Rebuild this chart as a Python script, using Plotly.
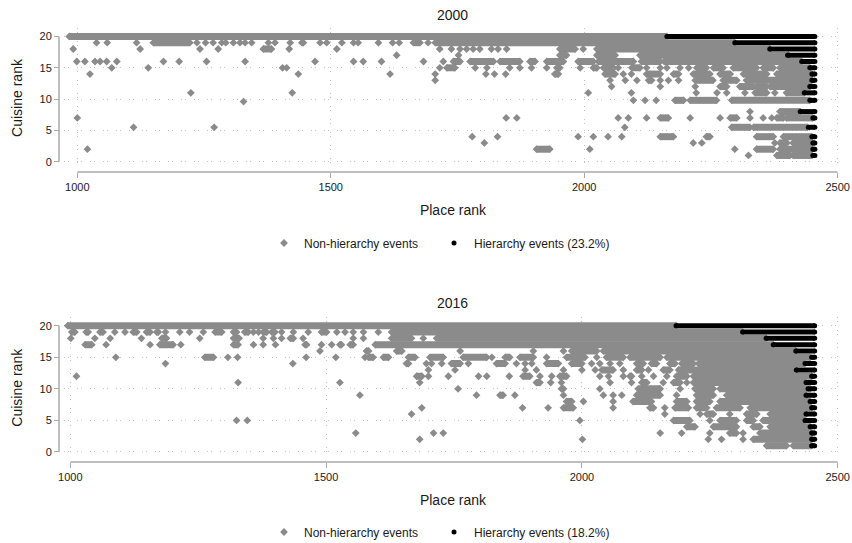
import plotly.graph_objects as go

# ---------------- data ----------------
# each entry: (cuisine rank, place rank) for a single event, or
# (cuisine rank, first place rank, last place rank) for a dense run of events
nonhier_2000 = [
    (20, 984, 2163),
    (19, 1038), (19, 1059), (19, 1117), (19, 1150, 1222), (19, 1236), (19, 1253), (19, 1268), (19, 1285),
    (19, 1293), (19, 1308), (19, 1321), (19, 1331), (19, 1344), (19, 1377), (19, 1390), (19, 1420),
    (19, 1443, 1446), (19, 1479), (19, 1492), (19, 1522), (19, 1545), (19, 1554), (19, 1594), (19, 1622),
    (19, 1635), (19, 1663, 1676), (19, 1692), (19, 1706, 2297),
    (18, 992), (18, 1124), (18, 1242), (18, 1278), (18, 1367, 1383), (18, 1418), (18, 1512), (18, 1715),
    (18, 1738), (18, 1755), (18, 1768), (18, 1781), (18, 1794), (18, 1817), (18, 1830), (18, 1847),
    (18, 1952, 1982), (18, 1998), (18, 2025, 2366),
    (17, 1630), (17, 1752), (17, 1952, 1965), (17, 2025, 2061), (17, 2110, 2403),
    (16, 999), (16, 1015), (16, 1035), (16, 1045), (16, 1058), (16, 1078), (16, 1170), (16, 1201),
    (16, 1255), (16, 1331), (16, 1469), (16, 1545), (16, 1564), (16, 1600), (16, 1683), (16, 1722),
    (16, 1742, 1755), (16, 1775, 1821), (16, 1834, 1873), (16, 1893, 1903), (16, 1926, 1959),
    (16, 1988, 2018), (16, 2028, 2097), (16, 2113, 2150), (16, 2158, 2429),
    (15, 1068), (15, 1140), (15, 1405), (15, 1413), (15, 1715), (15, 1729, 1745), (15, 1785), (15, 1808),
    (15, 1853), (15, 1873), (15, 1896), (15, 1926), (15, 1946, 1952), (15, 1992), (15, 2018, 2025),
    (15, 2038, 2058), (15, 2067), (15, 2094, 2110), (15, 2123), (15, 2150), (15, 2163), (15, 2189),
    (15, 2206), (15, 2222, 2241), (15, 2255, 2274), (15, 2294, 2340), (15, 2353, 2373), (15, 2386, 2445),
    (14, 1025), (14, 1436), (14, 1617), (14, 1706), (14, 1806), (14, 1823), (14, 1845), (14, 1942, 1949),
    (14, 2041, 2061), (14, 2077), (14, 2093), (14, 2123, 2150), (14, 2176, 2186), (14, 2215, 2248),
    (14, 2268, 2288), (14, 2314, 2360), (14, 2380, 2449),
    (13, 1706), (13, 2051), (13, 2081), (13, 2104), (13, 2127, 2133), (13, 2150), (13, 2166), (13, 2186),
    (13, 2219, 2254), (13, 2274, 2301), (13, 2320, 2449),
    (12, 2054), (12, 2150), (12, 2219), (12, 2268, 2281), (12, 2307, 2334), (12, 2340, 2360), (12, 2367, 2445),
    (11, 1224), (11, 1424), (11, 2008), (11, 2093), (11, 2221), (11, 2262), (11, 2281), (11, 2317),
    (11, 2337, 2360), (11, 2376), (11, 2399, 2434),
    (9.6, 1328), (9.8, 2097), (9.8, 2120), (9.8, 2142), (9.8, 2179, 2196), (9.8, 2209, 2261), (9.8, 2291, 2445),
    (8, 2327), (8, 2386, 2426),
    (7, 1000), (7, 1846), (7, 1867), (7, 2067), (7, 2087), (7, 2123), (7, 2150, 2166), (7, 2209), (7, 2268),
    (7, 2288, 2301), (7, 2327), (7, 2353), (7, 2370), (7, 2380, 2393), (7, 2399, 2450),
    (5.5, 1111), (5.5, 1270), (5.5, 2080), (5.5, 2291, 2327), (5.5, 2334, 2440),
    (4, 1779), (4, 1829), (4, 1988), (4, 2018), (4, 2047), (4, 2074), (4, 2150, 2176), (4, 2241, 2248),
    (4, 2340, 2373), (4, 2393, 2449),
    (3, 1803), (3, 2215), (3, 2232), (3, 2376), (3, 2386, 2400), (3, 2412, 2449),
    (2, 1020), (2, 1906, 1932), (2, 2011), (2, 2297), (2, 2340, 2373), (2, 2386, 2449),
    (1, 2324), (1, 2380, 2406), (1, 2412, 2449),
]
hier_2000 = [
    (20, 2163, 2455), (19, 2297, 2455), (18, 2366, 2455), (17, 2401, 2455), (16, 2429, 2455),
    (15, 2445, 2455), (14, 2449, 2455), (13, 2449, 2455), (12, 2445, 2455), (11, 2434, 2455),
    (9.8, 2445, 2455), (8, 2426, 2455), (7, 2451, 2455), (5.5, 2442, 2455), (4, 2449, 2455),
    (3, 2451, 2455), (2, 2451, 2455), (1, 2451, 2455),
]
nonhier_2016 = [
    (20, 995, 2184),
    (19, 1003, 1009), (19, 1031, 1035), (19, 1058, 1064), (19, 1087), (19, 1107), (19, 1123, 1130),
    (19, 1149, 1156), (19, 1169, 1172), (19, 1186), (19, 1214), (19, 1233), (19, 1260), (19, 1283, 1296),
    (19, 1319, 1325), (19, 1341, 1348), (19, 1358), (19, 1368), (19, 1377, 1384), (19, 1394, 1400),
    (19, 1413), (19, 1436), (19, 1465), (19, 1491, 1501), (19, 1521), (19, 1537), (19, 1553), (19, 1573),
    (19, 1602), (19, 1628, 2314),
    (18, 1001), (18, 1048), (18, 1078), (18, 1139), (18, 1179, 1188), (18, 1253), (18, 1319, 1330),
    (18, 1377), (18, 1397), (18, 1413), (18, 1430, 1436), (18, 1455), (18, 1553), (18, 1573),
    (18, 1628, 1667), (18, 1690), (18, 1716, 2360),
    (17, 1029, 1042), (17, 1070), (17, 1156), (17, 1175, 1201), (17, 1216), (17, 1319, 1328), (17, 1358),
    (17, 1377), (17, 1401), (17, 1459, 1462), (17, 1491), (17, 1511), (17, 1527, 1530), (17, 1547, 1553),
    (17, 1596, 2374),
    (16, 1488), (16, 1579, 1583), (16, 1638, 1648), (16, 1762), (16, 1905), (16, 1964), (16, 1980, 2029),
    (16, 2042, 2418),
    (15, 1089), (15, 1263, 1280), (15, 1308), (15, 1327), (15, 1461), (15, 1519), (15, 1576),
    (15, 1583, 1592), (15, 1612, 1622), (15, 1661, 1674), (15, 1703, 1729), (15, 1768, 1814), (15, 1824),
    (15, 1850, 1859), (15, 1879, 1905), (15, 1931), (15, 1970, 2006), (15, 2029), (15, 2048, 2081),
    (15, 2094, 2153), (15, 2166, 2446),
    (14, 1186), (14, 1435), (14, 1657, 1661), (14, 1696), (14, 1706), (14, 1726), (14, 1745, 1762),
    (14, 1778), (14, 1833, 1850), (14, 1872), (14, 1889), (14, 1902), (14, 1931, 1954), (14, 1980, 2000),
    (14, 2019), (14, 2035), (14, 2055), (14, 2074), (14, 2107, 2120), (14, 2136, 2146), (14, 2172, 2182),
    (14, 2195, 2218), (14, 2228, 2436),
    (13, 1700), (13, 1752), (13, 1889), (13, 1911), (13, 1964), (13, 2000), (13, 2026), (13, 2039, 2061),
    (13, 2081), (13, 2107, 2117), (13, 2130), (13, 2159, 2172), (13, 2189, 2419),
    (12, 1012), (12, 1677, 1687), (12, 1700), (12, 1739), (12, 1798), (12, 1814), (12, 1858),
    (12, 1885, 1898), (12, 1918), (12, 1941), (12, 1957, 1970), (12, 2035), (12, 2052), (12, 2081),
    (12, 2094, 2097), (12, 2117), (12, 2140), (12, 2166), (12, 2185, 2205), (12, 2218, 2449),
    (11, 1328), (11, 1527), (11, 1683), (11, 1911, 1918), (11, 1939), (11, 1960), (11, 2055), (11, 2097),
    (11, 2117, 2127), (11, 2159), (11, 2179, 2192), (11, 2205), (11, 2218, 2438),
    (10, 1758), (10, 1960, 1964), (10, 2035), (10, 2110, 2153), (10, 2192), (10, 2221, 2257), (10, 2270, 2446),
    (9, 1566), (9, 1794), (9, 1840, 1846), (9, 1869), (9, 1964), (9, 2042), (9, 2061), (9, 2078),
    (9, 2107, 2153), (9, 2185), (9, 2224, 2257), (9, 2283, 2438),
    (8, 1970, 1980), (8, 2003), (8, 2061), (8, 2100, 2136), (8, 2185, 2205), (8, 2224, 2250), (8, 2270, 2446),
    (7, 1687), (7, 1884), (7, 1934), (7, 1964, 1983), (7, 2061), (7, 2133, 2140), (7, 2162), (7, 2182, 2208),
    (7, 2224, 2244), (7, 2263, 2309), (7, 2329, 2449),
    (6, 1667), (6, 2162), (6, 2231), (6, 2244, 2257), (6, 2289), (6, 2322, 2342), (6, 2368, 2438),
    (5, 1325), (5, 1346), (5, 1996), (5, 2179, 2211), (5, 2250), (5, 2270, 2302), (5, 2322, 2335),
    (5, 2354, 2436),
    (4, 2205, 2221), (4, 2257, 2302), (4, 2335, 2348), (4, 2368, 2446),
    (3, 1558), (3, 1710), (3, 1729), (3, 2153), (3, 2195), (3, 2250), (3, 2289, 2302), (3, 2315), (3, 2348, 2449),
    (2, 1683), (2, 2001), (2, 2247), (2, 2273), (2, 2315), (2, 2335, 2449),
    (1, 2361, 2400), (1, 2413, 2449),
]
hier_2016 = [
    (20, 2184, 2455), (19, 2314, 2455), (18, 2360, 2455), (17, 2374, 2455), (16, 2418, 2455),
    (15, 2449, 2455), (14, 2436, 2455), (13, 2419, 2455), (12, 2449, 2455), (11, 2438, 2455),
    (10, 2442, 2455), (9, 2438, 2455), (8, 2446, 2455), (7, 2449, 2455), (6, 2438, 2455),
    (5, 2436, 2455), (4, 2446, 2455), (3, 2449, 2455), (2, 2449, 2455), (1, 2449, 2455),
]
panel_titles = ["2000", "2016"]
hier_share = [23.2, 18.2]
place_ticks = [1000, 1500, 2000, 2500]
cuisine_ticks = [0, 5, 10, 15, 20]

# ---------------- styling ----------------
GRAY = "#8b8b8b"
AXC = "#a9a9a9"
GRIDC = "#c4c4c4"
FONT = "Arial, Liberation Sans, sans-serif"
W, H = 852, 543
PX_L, PX_R = 64, 842
panels = [
    dict(nonhier=nonhier_2000, hier=hier_2000, ytop=28, ybot=168, axis_y=172, xr=[973.8, 2508.5],
         title_y=15, legend_y=243),
    dict(nonhier=nonhier_2016, hier=hier_2016, ytop=317.2, ybot=458.3, axis_y=462, xr=[987.7, 2508.4],
         title_y=303, legend_y=532),
]
LEG_X = [264, 434]   # left edge (px) of the two legend entries


def split(entries):
    lx, ly, px, py = [], [], [], []
    for e in entries:
        y = e[0]
        if len(e) == 3 and e[2] > e[1]:
            lx += [e[1], e[2], None]
            ly += [y, y, None]
            px += [e[1], e[2]]
            py += [y, y]
        else:
            px.append(e[1])
            py.append(y)
    return lx, ly, px, py


fig = go.Figure()
layout = dict(width=W, height=H, margin=dict(l=0, r=0, t=0, b=0, autoexpand=False),
              paper_bgcolor="white", plot_bgcolor="white",
              font=dict(family=FONT, color="#1a1a1a"), shapes=[], annotations=[])

leg_n = 0
for i, p in enumerate(panels):
    k = "" if i == 0 else str(i + 1)
    xa, ya = "x" + k, "y" + k
    for j, (series, color, lw, sym, ms, name) in enumerate([
        (p["nonhier"], GRAY, 7, "diamond", 6, "Non-hierarchy events"),
        (p["hier"], "black", 5, "circle", 5, "Hierarchy events (%.1f%%)" % hier_share[i]),
    ]):
        leg_n += 1
        leg = "legend" if leg_n == 1 else "legend%d" % leg_n
        lx, ly, px, py = split(series)
        fig.add_trace(go.Scatter(x=lx, y=ly, mode="lines", line=dict(color=color, width=lw),
                                 xaxis=xa, yaxis=ya, showlegend=False, legend=leg,
                                 legendgroup=name + k, hoverinfo="skip"))
        fig.add_trace(go.Scatter(x=px, y=py, mode="markers", name=name,
                                 marker=dict(symbol=sym, size=ms, color=color, line=dict(width=0)),
                                 xaxis=xa, yaxis=ya, legend=leg, legendgroup=name + k))
        layout[leg] = dict(orientation="h", x=LEG_X[j] / W, y=(H - p["legend_y"]) / H, xanchor="left",
                           yanchor="middle", font=dict(size=12, color="#1a1a1a"),
                           bgcolor="rgba(0,0,0,0)", itemclick=False, itemdoubleclick=False)

    dom_y = [(H - p["ybot"]) / H, (H - p["ytop"]) / H]
    layout["xaxis" + k] = dict(
        domain=[PX_L / W, PX_R / W], range=p["xr"], anchor="free", position=(H - p["axis_y"]) / H,
        automargin=False,
        tickvals=place_ticks, ticks="outside", ticklen=5, tickcolor=AXC, tickwidth=1,
        showline=False, zeroline=False, showgrid=True, gridcolor=GRIDC, gridwidth=1,
        griddash="1px,3px,1px,8px", tickfont=dict(size=11, color="#1a1a1a"),
        title=dict(text="Place rank", font=dict(size=14, color="#1a1a1a"), standoff=12),
    )
    layout["yaxis" + k] = dict(
        domain=dom_y, range=[-1, 21.35], anchor="free", position=59 / W,
        automargin=False,
        tickvals=cuisine_ticks, ticks="outside", ticklen=5, tickcolor=AXC, tickwidth=1,
        showline=False, zeroline=False, showgrid=True, gridcolor=GRIDC, gridwidth=1,
        griddash="1px,3px,1px,8px", tickfont=dict(size=11, color="#1a1a1a"),
        title=dict(text="Cuisine rank", font=dict(size=14, color="#1a1a1a"), standoff=12),
    )
    hpx = p["ybot"] - p["ytop"]
    layout["shapes"].append(dict(type="line", xref=xa, yref=ya + " domain",
                                 x0=place_ticks[0], x1=place_ticks[-1],
                                 y0=(p["ybot"] - p["axis_y"]) / hpx, y1=(p["ybot"] - p["axis_y"]) / hpx,
                                 line=dict(color=AXC, width=1.5)))
    layout["shapes"].append(dict(type="line", xref=xa + " domain", yref=ya,
                                 x0=(59 - PX_L) / (PX_R - PX_L), x1=(59 - PX_L) / (PX_R - PX_L),
                                 y0=cuisine_ticks[0], y1=cuisine_ticks[-1],
                                 line=dict(color=AXC, width=1.5)))
    layout["annotations"].append(dict(text=panel_titles[i], xref="paper", yref="paper",
                                      x=452 / W, y=(H - p["title_y"]) / H, xanchor="center",
                                      yanchor="middle", showarrow=False,
                                      font=dict(size=14, color="#1a1a1a")))

fig.update_layout(**layout)
fig.write_html("out.html")
